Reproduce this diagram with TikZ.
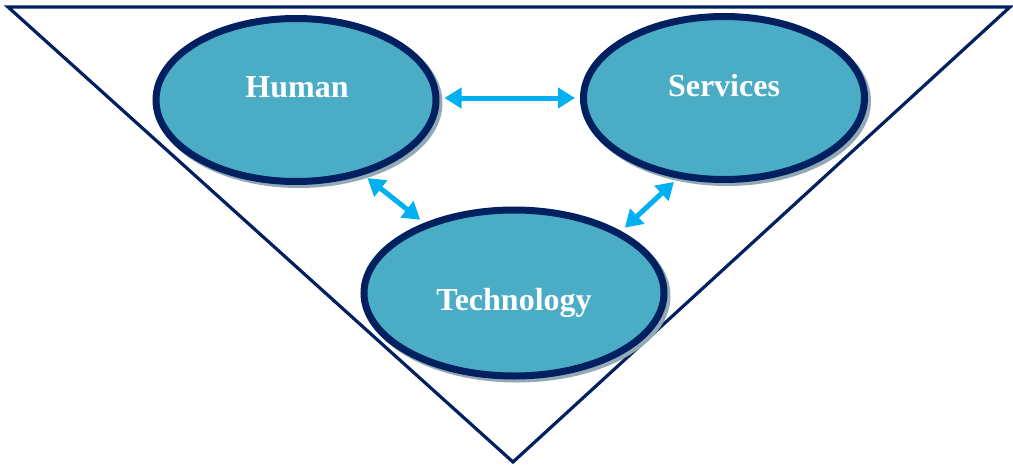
\documentclass[tikz,border=0pt]{standalone}
\usepackage{fontspec}
\setmainfont{Liberation Serif}
\usetikzlibrary{shapes.geometric,arrows.meta,shadows}
\definecolor{navy}{HTML}{002060}
\definecolor{tealfill}{HTML}{4BACC6}
\definecolor{linkblue}{HTML}{00B0F0}
\definecolor{shadowgray}{HTML}{93AAB6}
\begin{document}
\begin{tikzpicture}[x=1pt,y=-1pt,
  bubble/.style={ellipse, draw=navy, line width=7pt, fill=tealfill,
    inner sep=0pt,
    drop shadow={shadow xshift=3pt, shadow yshift=-3pt, fill=shadowgray,
      draw=shadowgray, line width=7pt, opacity=1}},
  label/.style={text=white, font=\fontsize{32}{38}\selectfont\bfseries},
  link/.style={draw=linkblue, line width=5pt,
    {Triangle[length=17pt,width=20pt]}-{Triangle[length=17pt,width=20pt]},
    shorten <=5pt, shorten >=5pt}]
\useasboundingbox (0,0) rectangle (1013,466);
% frame triangle
\coordinate (tl) at (8,7);
\coordinate (tr) at (1010,7);
\coordinate (bot) at (513,462);
\draw[navy, line width=3.2pt] (tl) -- (tr) -- (bot) -- cycle;
% the three bubbles
\node[bubble, minimum width=280pt, minimum height=163pt] (human) at (296,100) {};
\node[bubble, minimum width=281pt, minimum height=163pt] (services) at (724,98) {};
\node[bubble, minimum width=300pt, minimum height=166pt] (tech) at (514,293) {};
\node[label] (humanlbl) at (297,87) {Human};
\node[label] (serviceslbl) at (724,86) {Services};
\node[label] (techlbl) at (514,303) {Technology};
% links between the bubbles
\draw[link] (human.east |- services.west) -- (services.west);
\draw[link] (human.-48) -- (tech.142);
\draw[link] (services.-120) -- (tech.30);
\end{tikzpicture}
\end{document}
